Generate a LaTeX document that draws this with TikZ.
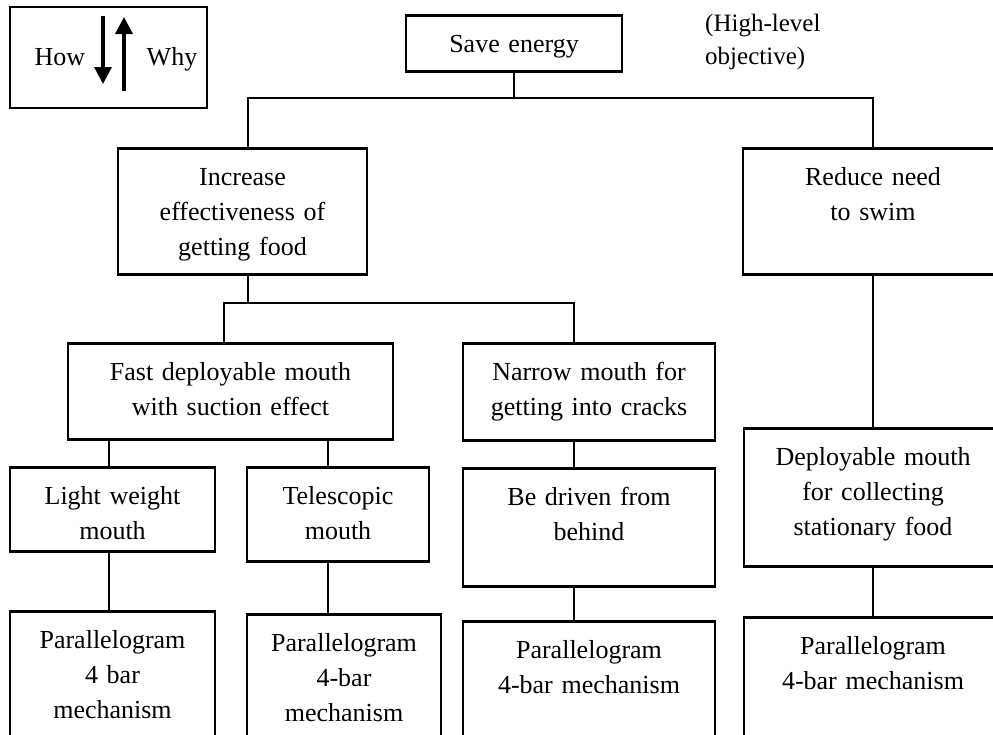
\documentclass[tikz,border=0pt]{standalone}
\usepackage{fontspec}
\setmainfont{Liberation Serif}
\usetikzlibrary{arrows.meta}

\begin{document}
\begin{tikzpicture}[x=1pt, y=-1pt, font=\fontsize{26}{35}\selectfont,
  box/.style={draw, line width=2.6pt, inner sep=0pt, align=center, text height=37pt, anchor=north},
  link/.style={line width=2.6pt},
  key/.style={draw, line width=1.2pt, minimum width=197pt, minimum height=101pt},
  dir/.style={line width=3.2pt, -{Triangle[width=17pt, length=17pt]}}]

\useasboundingbox (0,0) rectangle (993,734);
\clip (0,0) rectangle (993,734);

%% ===================== legend =====================
\node[key] (legend) at (108.5,57.5) {};
\node[anchor=base] (how) at (60,65) {How};
\node[anchor=base] (why) at (172,65) {Why};
\draw[dir] (103,16) -- (103,84);
\draw[dir] (124,91) -- (124,17);

%% ===================== objective =====================
\node[box, text width=216pt, text depth=19pt] (save) at (514,14) {Save energy};
\node[anchor=north west, inner sep=0pt, align=left, font=\fontsize{25}{33}\selectfont]
  (note) at (705,14) {(High-level\\objective)};

%% ===================== second level =====================
\node[box, text width=249pt, text depth=89pt] (inc) at (242.5,147)
  {Increase\\effectiveness of\\getting food};
\node[box, text width=260pt, text depth=89pt] (red) at (873,147)
  {Reduce need\\to swim};

\coordinate (jsave) at (514,98);
\coordinate (jinc)  at (248,98);
\coordinate (jred)  at (873,98);
\draw[link] (save.south) -- (jsave);
\draw[link] (inc.north -| jinc) -- (jinc) -- (jred) -- (red.north);

%% ===================== third level =====================
\node[box, text width=325pt, text depth=59pt] (fast) at (230.5,342)
  {Fast deployable mouth\\with suction effect};
\node[box, text width=252pt, text depth=60pt] (nar) at (589,342)
  {Narrow mouth for\\getting into cracks};

\coordinate (kinc)  at (248,303);
\coordinate (kfast) at (224,303);
\coordinate (knar)  at (574,303);
\draw[link] (inc.south -| kinc) -- (kinc);
\draw[link] (fast.north -| kfast) -- (kfast) -- (knar) -- (nar.north -| knar);

%% ===================== fourth level =====================
\node[box, text width=205pt, text depth=47pt] (light) at (112.5,466)
  {Light weight\\mouth};
\node[box, text width=182pt, text depth=57pt] (tele) at (338,466)
  {Telescopic\\mouth};
\node[box, text width=252pt, text depth=81pt] (drive) at (589,467)
  {Be driven from\\behind};
\node[box, text width=258pt, text depth=101pt] (dep) at (873,427)
  {Deployable mouth\\for collecting\\stationary food};

\coordinate (xl) at (109,0);
\coordinate (xt) at (328,0);
\coordinate (xn) at (574,0);
\draw[link] (fast.south -| xl) -- (light.north -| xl);
\draw[link] (fast.south -| xt) -- (tele.north -| xt);
\draw[link] (nar.south -| xn) -- (drive.north -| xn);
\draw[link] (red.south) -- (dep.north);

%% ===================== mechanisms =====================
\node[box, text width=205pt, text depth=103pt] (par1) at (112.5,610)
  {Parallelogram\\4 bar\\mechanism};
\node[box, text width=194pt, text depth=103pt] (par2) at (344,613)
  {Parallelogram\\4-bar\\mechanism};
\node[box, text width=252pt, text depth=103pt] (par3) at (589,620)
  {Parallelogram\\4-bar mechanism};
\node[box, text width=258pt, text depth=93pt] (par4) at (873,616)
  {Parallelogram\\4-bar mechanism};

\draw[link] (light.south -| xl) -- (par1.north -| xl);
\draw[link] (tele.south -| xt) -- (par2.north -| xt);
\draw[link] (drive.south -| xn) -- (par3.north -| xn);
\draw[link] (dep.south) -- (par4.north);

\end{tikzpicture}
\end{document}
